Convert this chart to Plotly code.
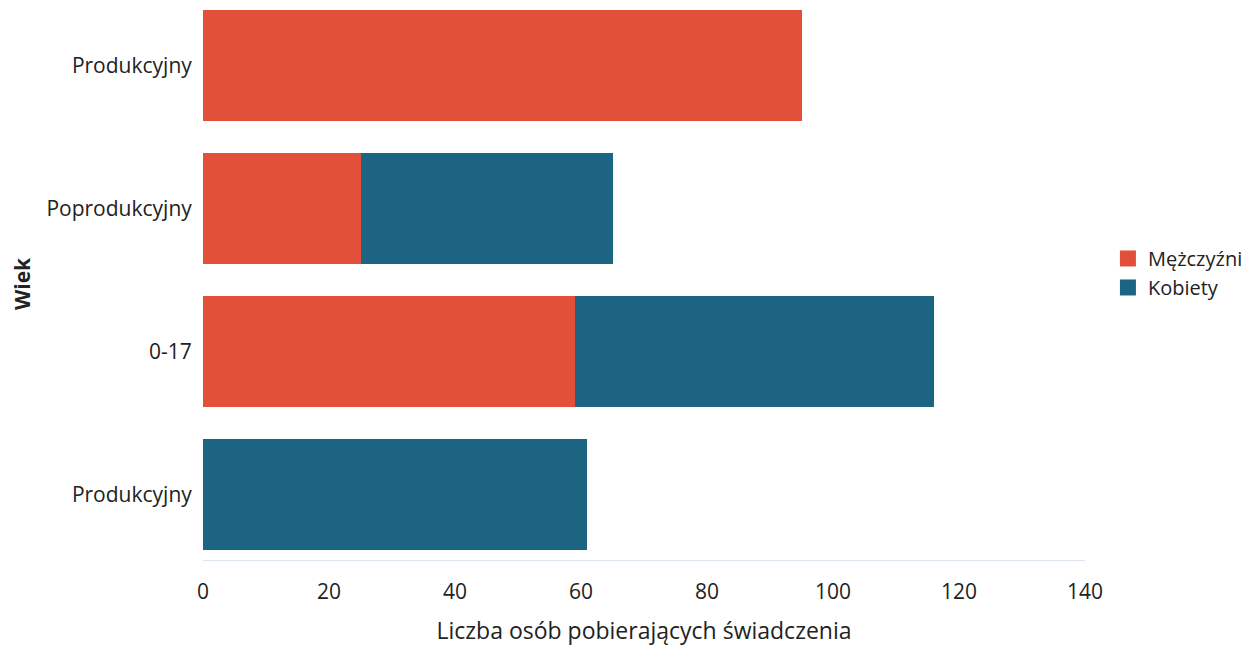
import plotly.graph_objects as go

categories = ["Produkcyjny", "0-17", "Poprodukcyjny", "Produkcyjny"]  # bottom to top
men = [0, 59, 25, 95]
women = [61, 57, 40, 0]
x_ticks = [0, 20, 40, 60, 80, 100, 120, 140]

pos = list(range(len(categories)))
font = "Open Sans"
RED = "#E2503A"
BLUE = "#1D6483"

fig = go.Figure()
fig.add_trace(go.Bar(y=pos, x=men, orientation="h", name="Mężczyźni", showlegend=False,
                     marker=dict(color=RED, line=dict(width=0)), width=0.78))
fig.add_trace(go.Bar(y=pos, x=women, orientation="h", name="Kobiety", showlegend=False,
                     marker=dict(color=BLUE, line=dict(width=0)), width=0.78))
# legend entries with larger square symbols
fig.add_trace(go.Scatter(x=[None], y=[None], mode="markers", name="Mężczyźni",
                         marker=dict(symbol="square", size=20, color=RED)))
fig.add_trace(go.Scatter(x=[None], y=[None], mode="markers", name="Kobiety",
                         marker=dict(symbol="square", size=20, color=BLUE)))

fig.update_layout(
    barmode="stack",
    width=1250, height=638,
    margin=dict(l=195, r=173, t=0, b=86, autoexpand=False),
    paper_bgcolor="white", plot_bgcolor="white",
    font=dict(family=font, color="#222222"),
    legend=dict(x=1.026, y=0.52, yanchor="middle", xanchor="left",
                font=dict(size=20, color="#222222"), traceorder="normal",
                itemwidth=30, tracegroupgap=0),
    xaxis=dict(range=[0, 140], tickvals=x_ticks, showgrid=False, zeroline=False,
               showline=True, linecolor="#dde6ee", linewidth=1, automargin=False,
               tickfont=dict(size=21), ticks="outside", ticklen=13, tickcolor="rgba(0,0,0,0)",
               title=dict(text="Liczba osób pobierających świadczenia", font=dict(size=23), standoff=20)),
    yaxis=dict(range=[-0.46, 3.404], tickvals=pos, ticktext=categories, showgrid=False,
               zeroline=False, showline=False, tickfont=dict(size=21), ticks="outside",
               ticklen=6, tickcolor="rgba(0,0,0,0)", automargin=False,
               title=dict(text="<b>Wiek</b>", font=dict(size=21), standoff=42)),
)
fig.write_html("out.html")
